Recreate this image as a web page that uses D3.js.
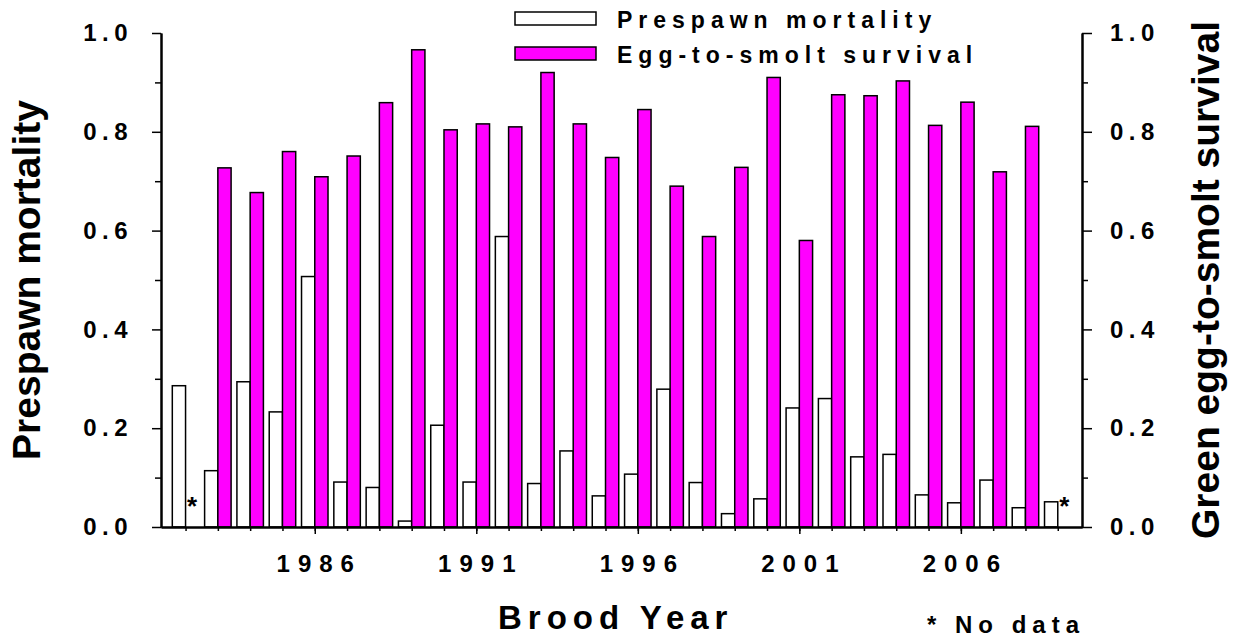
<!DOCTYPE html>
<html>
<head>
<meta charset="utf-8">
<script src="https://cdn.jsdelivr.net/npm/d3@7"></script>
<style>
  body { margin: 0; background: #fff; }
  svg text { font-family: "Liberation Sans", Arial, sans-serif; font-weight: bold; fill: #000; }
</style>
</head>
<body>
<svg id="chart" width="1233" height="639"></svg>
<script>
// data
var years = d3.range(1982, 2010);
var prespawn = [0.286, 0.114, 0.294, 0.233, 0.507, 0.091, 0.080, 0.012, 0.206, 0.091,
                0.588, 0.088, 0.154, 0.063, 0.107, 0.279, 0.090, 0.027, 0.057, 0.241,
                0.260, 0.142, 0.147, 0.065, 0.049, 0.095, 0.039, 0.051];
var eggSmolt = [null, 0.727, 0.677, 0.760, 0.709, 0.751, 0.859, 0.966, 0.804, 0.816,
                0.810, 0.920, 0.816, 0.748, 0.845, 0.690, 0.588, 0.728, 0.910, 0.580,
                0.875, 0.873, 0.903, 0.813, 0.860, 0.719, 0.811, null];
var majorYears = [1986, 1991, 1996, 2001, 2006];
var yTicks = [0, 0.2, 0.4, 0.6, 0.8, 1.0];
var yMinor = [0.1, 0.3, 0.5, 0.7, 0.9];
var legendLabels = ["Prespawn mortality", "Egg-to-smolt survival"];

// plot box (don't call it "top", that's window.top)
var box = { left: 161, right: 1082, top: 33, bottom: 527 };
var svg = d3.select('#chart');

var x = d3.scaleLinear().domain([1981.24, 2009.75]).range([box.left, box.right]);
var y = d3.scaleLinear().domain([0, 1]).range([box.bottom, box.top]);
var bw = 0.41; // bar width in years

var rows = years.map(function(yr, i){ return {year: yr, pre: prespawn[i], egg: eggSmolt[i]}; });

// bars
svg.append("g").selectAll("rect").data(rows).enter().append("rect")
    .attr("x", function(d){ return x(d.year - bw); })
    .attr("width", function(d){ return x(d.year) - x(d.year - bw); })
    .attr("y", function(d){ return y(d.pre); })
    .attr("height", function(d){ return y(0) - y(d.pre); })
    .attr("fill", "#fff").attr("stroke", "#000").attr("stroke-width", 1.5);

svg.append("g").selectAll("rect").data(rows.filter(function(d){ return d.egg != null; })).enter().append("rect")
    .attr("x", function(d){ return x(d.year); })
    .attr("width", function(d){ return x(d.year + bw) - x(d.year); })
    .attr("y", function(d){ return y(d.egg); })
    .attr("height", function(d){ return y(0) - y(d.egg); })
    .attr("fill", "#ff00ff").attr("stroke", "#000").attr("stroke-width", 1.5);

// no data markers
svg.append("g").selectAll("text").data(rows.filter(function(d){ return d.egg == null; })).enter().append("text")
    .attr("x", function(d){ return x(d.year + bw / 2); })
    .attr("y", y(0) - 12)
    .attr("text-anchor", "middle")
    .style("font-size", "26px")
    .text("*");

// axes
function styleAxis(g){
  g.selectAll("path, line").attr("stroke", "#000").attr("stroke-width", 1.5);
}
svg.append("g").attr("transform", "translate(0," + box.bottom + ")")
    .call(d3.axisBottom(x).tickValues(years).tickSize(4).tickSizeOuter(0).tickFormat(""))
    .call(styleAxis);
var xMaj = svg.append("g").attr("transform", "translate(0," + box.bottom + ")")
    .call(d3.axisBottom(x).tickValues(majorYears).tickSize(7).tickSizeOuter(0).tickPadding(21).tickFormat(d3.format("d")))
    .call(styleAxis);
xMaj.selectAll("text").style("font-size", "24px").style("letter-spacing", "8px").attr("dx", "4px");

var yl = svg.append("g").attr("transform", "translate(" + box.left + ",0)")
    .call(d3.axisLeft(y).tickValues(yTicks).tickSize(9).tickSizeOuter(0).tickPadding(19).tickFormat(d3.format(".1f")))
    .call(styleAxis);
svg.append("g").attr("transform", "translate(" + box.left + ",0)")
    .call(d3.axisLeft(y).tickValues(yMinor).tickSize(6).tickSizeOuter(0).tickFormat(""))
    .call(styleAxis);
var yr = svg.append("g").attr("transform", "translate(" + box.right + ",0)")
    .call(d3.axisRight(y).tickValues(yTicks).tickSize(10).tickSizeOuter(0).tickPadding(18).tickFormat(d3.format(".1f")))
    .call(styleAxis);
svg.append("g").attr("transform", "translate(" + box.right + ",0)")
    .call(d3.axisRight(y).tickValues(yMinor).tickSize(6).tickSizeOuter(0).tickFormat(""))
    .call(styleAxis);
svg.selectAll(".domain").attr("stroke-width", 2);
yl.selectAll("text").style("font-size", "24px").style("letter-spacing", "5.5px");
yr.selectAll("text").style("font-size", "24px").style("letter-spacing", "5.5px");

// titles
var midY = (box.top + box.bottom) / 2;
svg.append("text").attr("transform", "translate(40," + midY + ") rotate(-90)")
    .attr("text-anchor", "middle").style("font-size", "39px").text("Prespawn mortality");
svg.append("text").attr("transform", "translate(1219," + midY + ") rotate(-90)")
    .attr("text-anchor", "middle").style("font-size", "39px").text("Green egg-to-smolt survival");
svg.append("text").attr("x", 498).attr("y", 629)
    .style("font-size", "33px").style("letter-spacing", "6px").text("Brood Year");
svg.append("text").attr("x", 927).attr("y", 633)
    .style("font-size", "24px").style("letter-spacing", "6px").text("* No data");

// legend
var leg = svg.append("g").selectAll("g").data(legendLabels).enter().append("g")
    .attr("transform", function(d, i){ return "translate(515," + (12 + i * 35) + ")"; });
leg.append("rect").attr("width", 81).attr("height", 13)
    .attr("fill", function(d, i){ return i === 0 ? "#fff" : "#ff00ff"; })
    .attr("stroke", "#000").attr("stroke-width", 1.5);
leg.append("text").attr("x", 102).attr("y", 16)
    .style("font-size", "23px").style("letter-spacing", "6px").text(function(d){ return d; });
</script>
</body>
</html>
